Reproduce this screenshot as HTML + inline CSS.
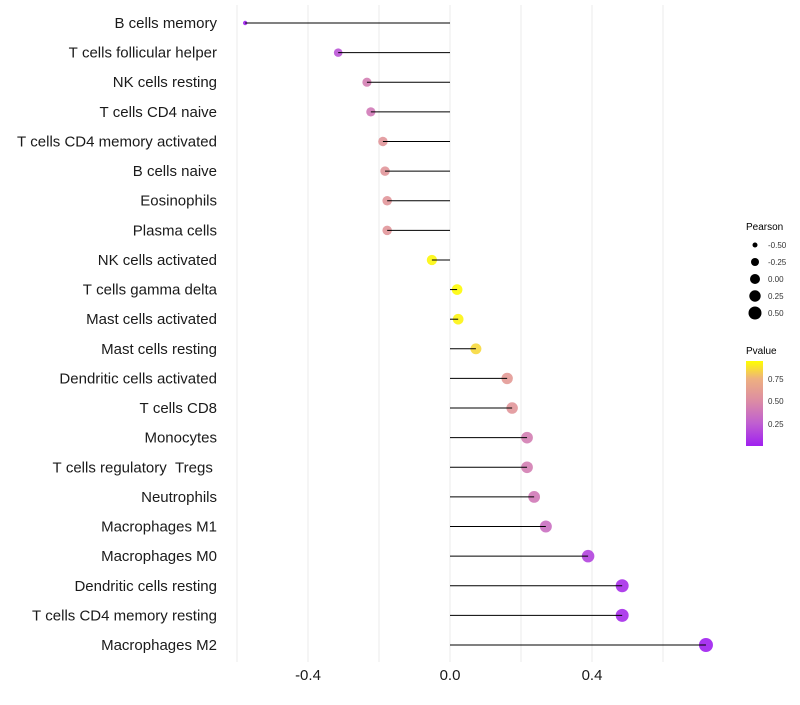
<!DOCTYPE html>
<html><head><meta charset="utf-8"><style>
body{margin:0;background:#fff;font-family:"Liberation Sans",sans-serif}
</style></head><body>
<svg id="chart" width="800" height="700" xmlns="http://www.w3.org/2000/svg" font-family="Liberation Sans, sans-serif">
<defs><linearGradient id="pg" x1="0" y1="1" x2="0" y2="0">
<stop offset="0" stop-color="#a020f0"/><stop offset="0.27" stop-color="#c060d0"/><stop offset="0.53" stop-color="#dc8ca4"/><stop offset="0.79" stop-color="#eeb080"/><stop offset="1" stop-color="#ffff00"/></linearGradient></defs>
<g id="grid"></g><g id="points"></g><g id="stems"></g><g id="ylabels"></g><g id="xlabels"></g>
<g id="legP">
<text x="746" y="230" font-size="10" fill="#000">Pearson</text></g>
<g>
<text x="746" y="354" font-size="10" fill="#000">Pvalue</text>
<rect x="746" y="361" width="17" height="85" fill="url(#pg)"/>
<text x="768" y="382" font-size="8" fill="#333">0.75</text>
<text x="768" y="404" font-size="8" fill="#333">0.50</text>
<text x="768" y="427" font-size="8" fill="#333">0.25</text>
</g>
</svg>
<script>
const cells=["B cells memory","T cells follicular helper","NK cells resting","T cells CD4 naive","T cells CD4 memory activated","B cells naive","Eosinophils","Plasma cells","NK cells activated","T cells gamma delta","Mast cells activated","Mast cells resting","Dendritic cells activated","T cells CD8","Monocytes","T cells regulatory  Tregs ","Neutrophils","Macrophages M1","Macrophages M0","Dendritic cells resting","T cells CD4 memory resting","Macrophages M2"];
const pearson=[-0.577,-0.315,-0.234,-0.223,-0.189,-0.183,-0.177,-0.177,-0.051,0.020,0.023,0.073,0.161,0.175,0.217,0.217,0.237,0.270,0.389,0.485,0.485,0.721];
const pvalue=[0.0,0.22,0.45,0.42,0.6,0.6,0.6,0.6,0.98,0.99,0.97,0.9,0.63,0.6,0.45,0.45,0.42,0.36,0.15,0.06,0.05,0.001];
const xTicks=[-0.4,0.0,0.4];
const gridVals=[-0.6,-0.4,-0.2,0,0.2,0.4,0.6];
const sizeLegend=[-0.5,-0.25,0,0.25,0.5];
const NS="http://www.w3.org/2000/svg";
const x=v=>450+v*355;
const y=i=>23+i*(622/21);
const r=v=>v<-0.45?2.2:Math.sqrt(27.8+29.5*v);
const stops=[[0,[160,32,240]],[0.27,[192,96,208]],[0.53,[220,140,164]],[0.79,[238,176,128]],[1,[255,255,0]]];
function col(p){for(let k=0;k<stops.length-1;k++){const[a0,a]=stops[k],[b0,b]=stops[k+1];if(p<=b0){const t=(p-a0)/(b0-a0);return`rgb(${a.map((c,j)=>Math.round(c+(b[j]-c)*t)).join(',')})`;}}return'rgb(255,255,0)';}
function mk(tag,at,parent){const e=document.createElementNS(NS,tag);for(const k in at)e.setAttribute(k,at[k]);document.getElementById(parent).appendChild(e);return e;}
gridVals.forEach(g=>{const l=mk('line',{x1:x(g),x2:x(g),y1:5,y2:662,stroke:'#ebebeb','stroke-width':1},'grid');

});
cells.forEach((c,i)=>{
const p=mk('circle',{cx:x(pearson[i]),cy:y(i),r:r(pearson[i]),fill:col(pvalue[i]),'fill-opacity':0.9},'points');


const s=mk('line',{x1:x(0),x2:x(pearson[i]),y1:y(i),y2:y(i),stroke:'#000','stroke-width':1},'stems');


const t=mk('text',{x:217,y:y(i)+5,'text-anchor':'end','font-size':15,fill:'#1a1a1a'},'ylabels');t.textContent=c.replace(/ /g,'\u00a0');


});
xTicks.forEach(v=>{const t=mk('text',{x:x(v),y:680,'text-anchor':'middle','font-size':15,fill:'#1a1a1a'},'xlabels');t.textContent=v.toFixed(1);

});
const legR=[2.5,4,5,5.7,6.5];
sizeLegend.forEach((v,i)=>{const cy=245+i*17;
const c=mk('circle',{cx:755,cy:cy,r:legR[i],fill:'#000'},'legP');


const t=mk('text',{x:768,y:cy+3,'font-size':8,fill:'#333'},'legP');t.textContent=v.toFixed(2);

});
</script>
</body></html>
